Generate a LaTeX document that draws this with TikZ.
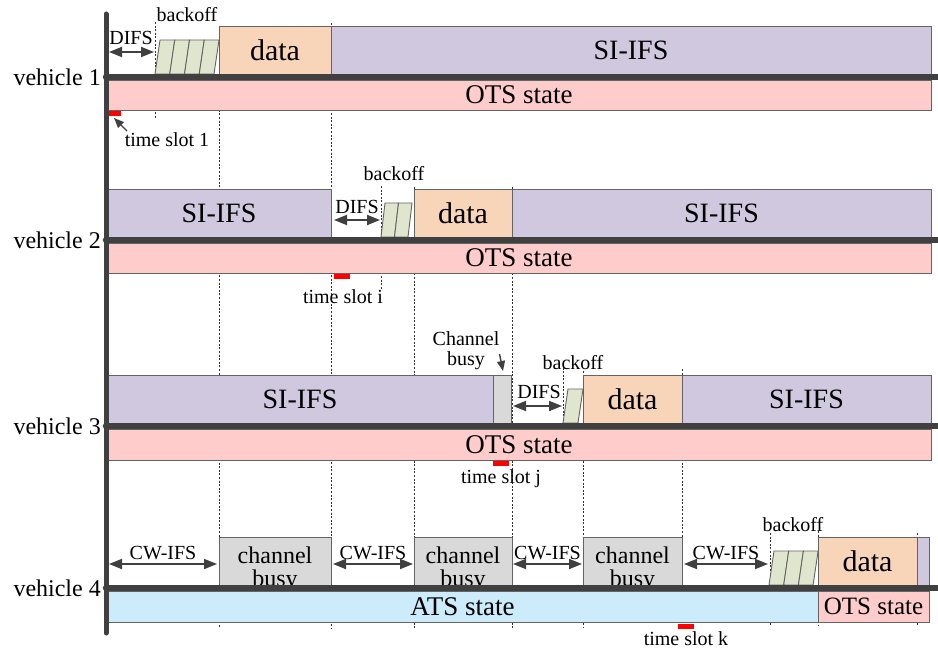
\documentclass[tikz,border=0pt]{standalone}
\usepackage{fontspec}
\setmainfont{Liberation Serif}
\usetikzlibrary{arrows.meta}
\definecolor{sifsc}{RGB}{208,200,222}
\definecolor{datac}{RGB}{248,213,184}
\definecolor{otsc}{RGB}{255,204,204}
\definecolor{atsc}{RGB}{204,236,252}
\definecolor{boffc}{RGB}{224,230,206}
\definecolor{busyc}{RGB}{217,217,217}
\definecolor{axisc}{RGB}{64,64,64}
\definecolor{edgec}{RGB}{100,100,100}
\tikzset{
	slotbox/.style={draw=edgec, line width=0.9pt},
	rowline/.style={draw=axisc, line width=6.5pt, line cap=round},
	guide/.style={dash pattern=on 2pt off 1.6pt, draw=black!80, line width=1pt},
	span/.style={{Triangle[length=13pt,width=10pt]}-{Triangle[length=13pt,width=10pt]}, draw=axisc, line width=1.8pt},
	pointer/.style={-{Triangle[length=10pt,width=8pt]}, draw=axisc, line width=1.4pt},
	vlabel/.style={font=\fontsize{24}{26}\selectfont, anchor=east, inner sep=0pt},
	note/.style={font=\fontsize{20}{20}\selectfont, inner sep=0pt},
	datatxt/.style={font=\fontsize{30}{32}\selectfont},
	sifstxt/.style={font=\fontsize{28}{30}\selectfont},
	statetxt/.style={font=\fontsize{27}{29}\selectfont},
	busytxt/.style={font=\fontsize{24}{23}\selectfont, align=center, anchor=north, inner sep=0pt},
}
% backoff slots: x0, row y, number, width, slant
\newcommand{\backoffslots}[5]{%
	\foreach \i in {1,...,#3}
	{
		\draw[slotbox, fill=boffc] ({#1+(\i-1)*#4},{#2-3}) -- ({#1+(\i-1)*#4+#5},{#2-37})
			-- ({#1+\i*#4+#5},{#2-37}) -- ({#1+\i*#4},{#2-3}) -- cycle;
	}
}
\begin{document}
\begin{tikzpicture}[x=1pt,y=-1pt]
	\useasboundingbox (0,0) rectangle (938,650);
	% dotted guides
	\foreach \gx/\gtop/\gbot in {155/22/118, 219/27/628, 331/23/628, 381/186/290, 414/187/628, 512/187/628,
		563/364/423, 583/371/628, 682/369/628, 770/533/626, 818/531/626, 917/533/626}
		\draw[guide] (\gx,\gtop) -- (\gx,\gbot);

	% vehicle 1
	\backoffslots{155}{77}{4}{14.75}{5}
	\draw[slotbox, fill=datac] (219,26) rectangle (331,74) node[midway, datatxt] (d1) {data};
	\draw[slotbox, fill=sifsc] (331,26) rectangle (931,74) node[midway, sifstxt] (s1) {SI-IFS};
	\draw[slotbox, fill=otsc] (107,80) rectangle (931,110) node[midway, statetxt] (o1) {OTS state};

	% vehicle 2
	\draw[slotbox, fill=sifsc] (107,189) rectangle (331,237) node[midway, sifstxt] (s2a) {SI-IFS};
	\backoffslots{381}{240}{2}{13.5}{4}
	\draw[slotbox, fill=datac] (414,189) rectangle (512,237) node[midway, datatxt] (d2) {data};
	\draw[slotbox, fill=sifsc] (512,189) rectangle (931,237) node[midway, sifstxt] (s2b) {SI-IFS};
	\draw[slotbox, fill=otsc] (107,243) rectangle (931,273) node[midway, statetxt] (o2) {OTS state};

	% vehicle 3
	\draw[slotbox, fill=sifsc] (107,375) rectangle (493,423) node[midway, sifstxt] (s3a) {SI-IFS};
	\draw[slotbox, fill=busyc] (493,375) rectangle (511,423);
	\backoffslots{563}{426}{1}{15}{5}
	\draw[slotbox, fill=datac] (583,375) rectangle (682,423) node[midway, datatxt] (d3) {data};
	\draw[slotbox, fill=sifsc] (682,375) rectangle (931,423) node[midway, sifstxt] (s3b) {SI-IFS};
	\draw[slotbox, fill=otsc] (107,429) rectangle (931,460) node[midway, statetxt] (o3) {OTS state};

	% vehicle 4
	\foreach \bx/\ex in {219/331, 414/512, 583/682}
	{
		\draw[slotbox, fill=busyc] (\bx,537) rectangle (\ex,585);
		\node[busytxt] (busy\bx) at ({(\bx+\ex)/2},547) {channel\\busy};
	}
	\backoffslots{769}{588}{3}{14.7}{5}
	\draw[slotbox, fill=datac] (818,537) rectangle (917,585) node[midway, datatxt] (d4) {data};
	\draw[slotbox, fill=sifsc] (917,537) rectangle (929,585);
	\draw[slotbox, fill=atsc] (107,591) rectangle (818,622) node[midway, statetxt] (a4) {ATS state};
	\draw[slotbox, fill=otsc] (818,591) rectangle (929,622) node[midway, font=\fontsize{25}{27}\selectfont] (o4) {OTS state};

	% time lines
	\foreach \ry/\v in {77/1, 240/2, 426/3, 588/4}
	{
		\draw[rowline] (106,\ry) -- (938,\ry);
		\node[vlabel] (veh\v) at (101,\ry) {vehicle \v};
	}
	\draw[draw=axisc, line width=5pt, line cap=round] (106,14) -- (106,633);

	% DIFS and CW-IFS spans
	\coordinate (difsA1) at (109,52);  \coordinate (difsB1) at (154,52);
	\coordinate (difsA2) at (334,220); \coordinate (difsB2) at (380,220);
	\coordinate (difsA3) at (513,406); \coordinate (difsB3) at (562,406);
	\foreach \k in {1,2,3}
		\draw[span] (difsA\k) -- (difsB\k);
	\node[note] (difs1) at (131,38) {DIFS};
	\node[note] (difs2) at (357,207) {DIFS};
	\node[note] (difs3) at (539,392) {DIFS};
	\foreach \cx/\ex/\k in {109/217/1, 333/413/2, 513/582/3, 684/768/4}
	{
		\coordinate (cwA\k) at (\cx,564);
		\coordinate (cwB\k) at (\ex,564);
		\draw[span] (cwA\k) -- (cwB\k);
		\node[note] (cw\k) at ({(\cx+\ex)/2},553) {CW-IFS};
	}

	% backoff labels
	\node[note] (bo1) at (187,15) {backoff};
	\node[note] (bo2) at (394,174) {backoff};
	\node[note] (bo3) at (573,363) {backoff};
	\node[note] (bo4) at (793,525) {backoff};

	% time slots
	\fill[red] (109,111) rectangle (121,116);
	\fill[red] (334,274) rectangle (350,279);
	\fill[red] (493,461) rectangle (509,466);
	\fill[red] (678,624) rectangle (694,629);
	\node[note, anchor=base] (ts1) at (167,147) {time slot 1};
	\node[note, anchor=base] (tsi) at (343,303) {time slot i};
	\node[note, anchor=base] (tsj) at (501,483) {time slot j};
	\node[note, anchor=base] (tsk) at (686,645) {time slot k};
	\coordinate (ts1tail) at (127,131);
	\coordinate (ts1head) at (114,118);
	\draw[pointer] (ts1tail) -- (ts1head);

	% channel busy note
	\node[note, align=center, anchor=north] (chb) at (466,331) {Channel\\busy};
	\coordinate (chbhead) at (503,371);
	\draw[pointer] (chb.east |- 0,354) -- (chbhead);
\end{tikzpicture}
\end{document}
